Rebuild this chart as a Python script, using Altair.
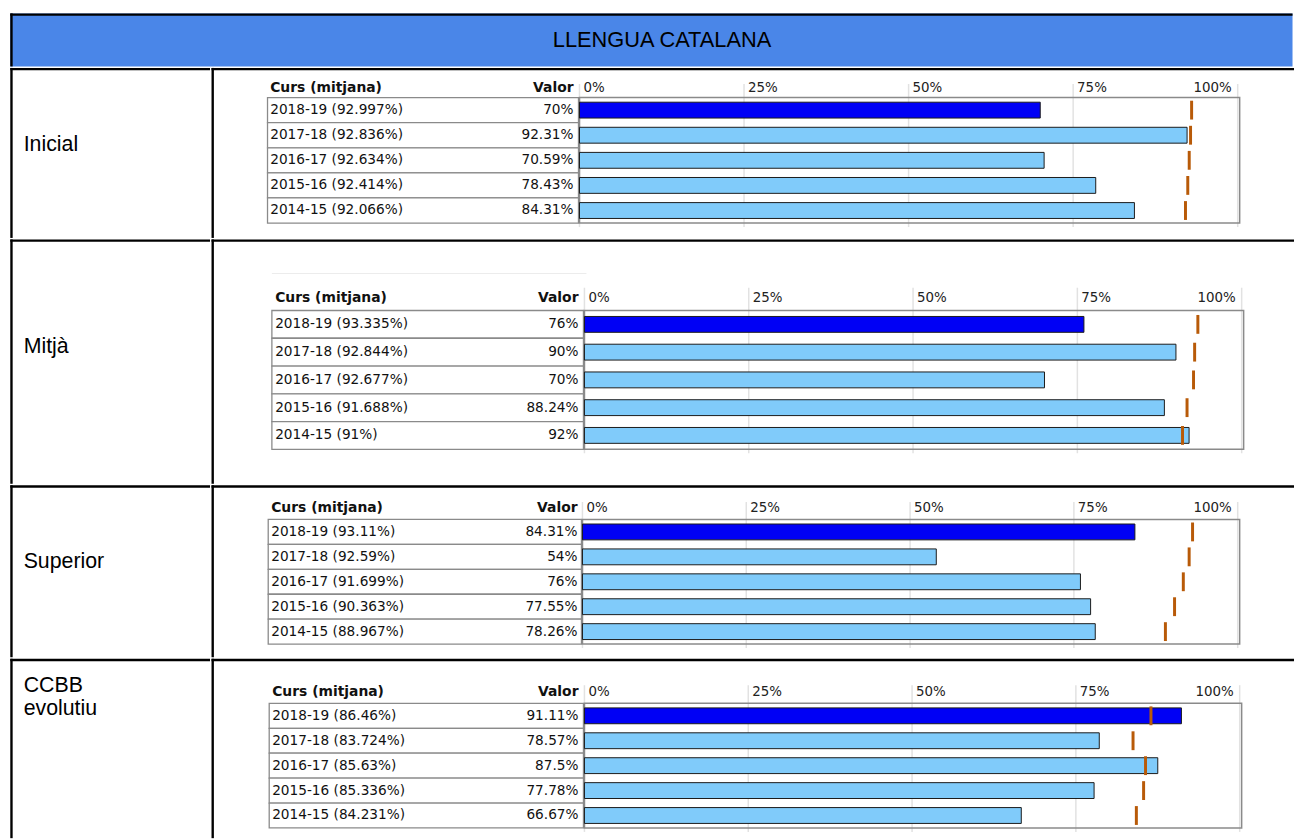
import altair as alt
import pandas as pd

titol = "LLENGUA CATALANA"
cursos = ["2018-19", "2017-18", "2016-17", "2015-16", "2014-15"]
nivells = ["Inicial", "Mitjà", "Superior", "CCBB\nevolutiu"]

inicial_mitjana = [92.997, 92.836, 92.634, 92.414, 92.066]
inicial_valor = [70, 92.31, 70.59, 78.43, 84.31]
mitja_mitjana = [93.335, 92.844, 92.677, 91.688, 91]
mitja_valor = [76, 90, 70, 88.24, 92]
superior_mitjana = [93.11, 92.59, 91.699, 90.363, 88.967]
superior_valor = [84.31, 54, 76, 77.55, 78.26]
ccbb_mitjana = [86.46, 83.724, 85.63, 85.336, 84.231]
ccbb_valor = [91.11, 78.57, 87.5, 77.78, 66.67]

eix_valors = [0, 25, 50, 75, 100]
eix_etiquetes = ["0%", "25%", "50%", "75%", "100%"]

mitjanes = [inicial_mitjana, mitja_mitjana, superior_mitjana, ccbb_mitjana]
valors = [inicial_valor, mitja_valor, superior_valor, ccbb_valor]

# layout (pixels)
LEFT_W = 201.5
CONT_W = 1092
HEAD_H = 53.5
ROW_H = [171.5, 246.5, 173.5, 181]
BORDER = 2.4
B2 = BORDER / 2
TXT_FONT = "DejaVu Sans"
LBL_FONT = "Liberation Sans"
TXT_SIZE = 13.8
HDR_SIZE = 14
AX_SIZE = 13.5
LBL_SIZE = 21.5
TITLE_SIZE = 22

# per-row geometry of the embedded mini chart (cell-relative, before border offset)
geo = [
    dict(tl=55.3, cx=58, vx=364, x0=370, x1=1034, top=28.7, bot=155.3, hy=19, gy=15, label_y=77),
    dict(tl=59.7, cx=63, vx=369, x0=375, x1=1038, top=70.5, bot=210.5, hy=57.5, gy=47.5, label_y=107.5, faint=33.2),
    dict(tl=56, cx=59, vx=368, x0=373, x1=1034, top=33.3, bot=159, hy=22, gy=15.7, label_y=76),
    dict(tl=57, cx=60, vx=369, x0=375, x1=1036, top=43.8, bot=169.5, hy=32.5, gy=25.5, label_y=26.5),
]
for g in geo:
    for k in ("tl", "cx", "vx", "x0", "x1"):
        g[k] += B2
    for k in ("top", "bot", "hy", "gy", "label_y", "faint"):
        if k in g:
            g[k] += B2

one = pd.DataFrame({"k": [0]})


def hrule(x1, x2, y):
    # square caps: drawn from x1 to x2, bounds stay inside the cell
    return alt.Chart(one).mark_rule(color="black", strokeWidth=BORDER, strokeCap="square").encode(
        x=alt.value(x1 + B2), x2=alt.value(x2 - B2), y=alt.value(y))


def vrule(x, y1, y2):
    return alt.Chart(one).mark_rule(color="black", strokeWidth=BORDER, strokeCap="square").encode(
        x=alt.value(x), y=alt.value(y1 + B2), y2=alt.value(y2 - B2))


def fmt(v):
    return f"{v:g}"


# header
HW = LEFT_W + CONT_W
head_text = alt.Chart(pd.DataFrame({"t": [titol]})).mark_text(
    font=LBL_FONT, fontSize=TITLE_SIZE, color="black", align="center", baseline="middle"
).encode(text="t:N", x=alt.value(657.5), y=alt.value(B2 + (HEAD_H - B2) / 2))
header = alt.layer(
    head_text,
    hrule(0, HW, B2),
    vrule(B2, 0, HEAD_H),
).properties(width=HW, height=HEAD_H,
             view=alt.ViewBackground(fill="#4a86e8", stroke=None))

rows = []
for i, nivell in enumerate(nivells):
    g = geo[i]
    H = ROW_H[i]
    lab = alt.Chart(pd.DataFrame({"t": [nivell]})).mark_text(
        font=LBL_FONT, fontSize=LBL_SIZE, color="black", align="left", baseline="middle",
        lineBreak="\n", lineHeight=23
    ).encode(text="t:N", x=alt.value(13.5), y=alt.value(g["label_y"]))
    left_cell = alt.layer(
        lab, hrule(0, LEFT_W, B2), vrule(B2, 0, H)
    ).properties(width=LEFT_W, height=H)

    df = pd.DataFrame({
        "curs": cursos,
        "mitjana": mitjanes[i],
        "valor": valors[i],
    })
    df["etiqueta"] = [f"{c} ({fmt(m)}%)" for c, m in zip(cursos, mitjanes[i])]
    df["valor_txt"] = [f"{fmt(v)}%" for v in valors[i]]
    df["tipus"] = ["actual" if c == cursos[0] else "anterior" for c in cursos]

    xs = alt.Scale(domain=[0, 100], range=[g["x0"], g["x1"]], zero=False, nice=False)
    ys = alt.Scale(domain=cursos, range=[g["top"], g["bot"]], paddingInner=0, paddingOuter=0)
    Y = alt.Y("curs:N", scale=ys, axis=None, sort=cursos)

    base = alt.Chart(df)
    table = base.mark_rect(fill="white", stroke="#8a8a8a", strokeWidth=1.3).encode(
        x=alt.value(g["tl"]), x2=alt.value(g["x0"] - 1), y=Y)
    curs_txt = base.mark_text(font=TXT_FONT, fontSize=TXT_SIZE, align="left", baseline="middle",
                              color="#111").encode(x=alt.value(g["cx"]), y=Y, text="etiqueta:N")
    val_txt = base.mark_text(font=TXT_FONT, fontSize=TXT_SIZE, align="right", baseline="middle",
                             color="#111").encode(x=alt.value(g["vx"]), y=Y, text="valor_txt:N")

    ticks_df = pd.DataFrame({"v": eix_valors, "t": eix_etiquetes})
    grid = alt.Chart(ticks_df).mark_rule(color="#e2e2e2", strokeWidth=1.5).encode(
        x=alt.X("v:Q", scale=xs, axis=None), y=alt.value(g["gy"]), y2=alt.value(g["bot"] + 4))
    ax_l = alt.Chart(ticks_df).transform_filter("datum.v < 100").mark_text(
        font=TXT_FONT, fontSize=AX_SIZE, align="left", baseline="middle", dx=4, color="#222"
    ).encode(x=alt.X("v:Q", scale=xs, axis=None), y=alt.value(g["hy"]), text="t:N")
    ax_r = alt.Chart(ticks_df).transform_filter("datum.v == 100").mark_text(
        font=TXT_FONT, fontSize=AX_SIZE, align="right", baseline="middle", dx=-6, color="#222"
    ).encode(x=alt.X("v:Q", scale=xs, axis=None), y=alt.value(g["hy"]), text="t:N")
    box = alt.Chart(one).mark_rect(fill="transparent", stroke="#8a8a8a", strokeWidth=1.5).encode(
        x=alt.X(datum=0, scale=xs, axis=None), x2=alt.X2(datum=100.3),
        y=alt.value(g["top"]), y2=alt.value(g["bot"]))
    hdr = alt.Chart(pd.DataFrame({"t": ["Curs (mitjana)", "Valor"], "a": ["l", "r"]}))
    h_curs = hdr.transform_filter("datum.a == 'l'").mark_text(
        font=TXT_FONT, fontSize=HDR_SIZE, fontWeight="bold", align="left", baseline="middle", color="#111"
    ).encode(x=alt.value(g["cx"]), y=alt.value(g["hy"]), text="t:N")
    h_val = hdr.transform_filter("datum.a == 'r'").mark_text(
        font=TXT_FONT, fontSize=HDR_SIZE, fontWeight="bold", align="right", baseline="middle", color="#111"
    ).encode(x=alt.value(g["vx"]), y=alt.value(g["hy"]), text="t:N")
    bars = base.mark_bar(height=16, stroke="#1a1a1a", strokeWidth=1).encode(
        x=alt.X("valor:Q", scale=xs, axis=None, stack=None), y=Y,
        color=alt.Color("tipus:N", scale=alt.Scale(domain=["actual", "anterior"],
                                                   range=["#0000f5", "#80cbfa"]), legend=None))
    ticks = base.mark_tick(thickness=3, size=19, color="#b85a08", opacity=1).encode(
        x=alt.X("mitjana:Q", scale=xs, axis=None), y=Y)

    layers = [grid, box, table, curs_txt, val_txt, ax_l, ax_r, h_curs, h_val, bars, ticks,
              hrule(0, CONT_W, B2), vrule(B2, 0, H)]
    if "faint" in g:
        layers.insert(0, alt.Chart(one).mark_rule(color="#ececec", strokeWidth=1).encode(
            x=alt.value(g["tl"]), x2=alt.value(g["x0"] + 2), y=alt.value(g["faint"])))
    content = alt.layer(*layers).properties(width=CONT_W, height=H)
    rows.append(alt.hconcat(left_cell, content, spacing=0))

chart = alt.vconcat(header, *rows, spacing=0).properties(
    padding={"left": 1.3, "top": 0.8, "right": 0, "bottom": 0},
).configure_view(stroke=None).configure_concat(spacing=0)

chart.save("out.html", embed_options={"renderer": "svg", "actions": False})
